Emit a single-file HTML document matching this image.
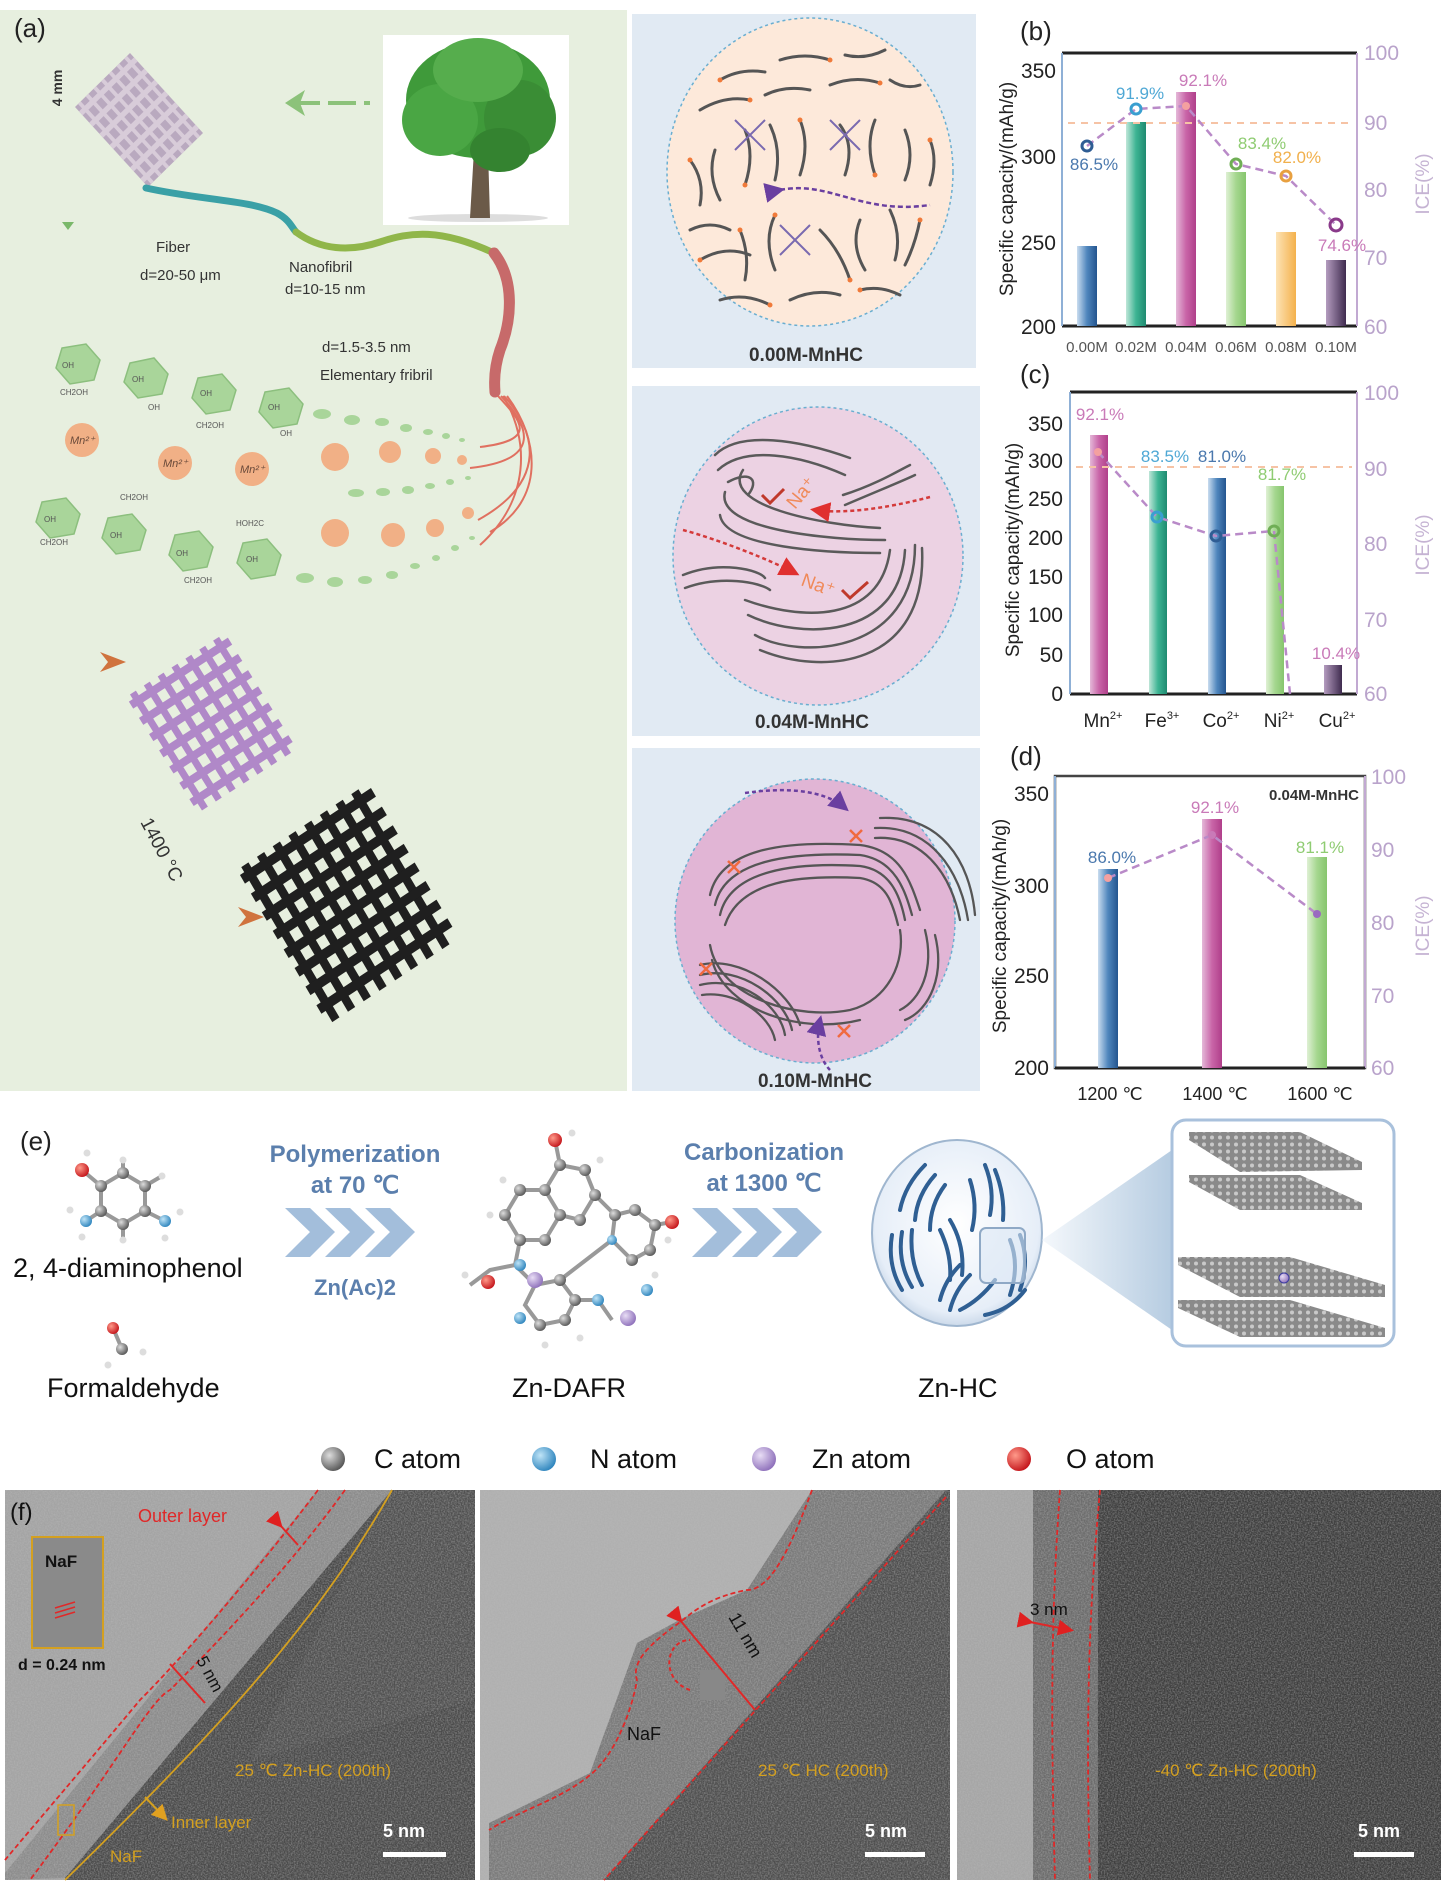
<!DOCTYPE html>
<html><head><meta charset="utf-8"><style>
html,body{margin:0;padding:0;background:#fff;}
svg{display:block;font-family:"Liberation Sans",Arial,sans-serif;}
</style></head><body>
<svg width="1447" height="1887" viewBox="0 0 1447 1887" xmlns="http://www.w3.org/2000/svg">
<defs>
<linearGradient id="gBlue" x1="0" x2="1"><stop offset="0" stop-color="#c9dcef"/><stop offset="0.5" stop-color="#4f86bd"/><stop offset="1" stop-color="#24558f"/></linearGradient>
<linearGradient id="gTeal" x1="0" x2="1"><stop offset="0" stop-color="#bfe6d8"/><stop offset="0.5" stop-color="#3db493"/><stop offset="1" stop-color="#1f8a70"/></linearGradient>
<linearGradient id="gMag" x1="0" x2="1"><stop offset="0" stop-color="#e4b8d8"/><stop offset="0.5" stop-color="#c965a8"/><stop offset="1" stop-color="#b03f8a"/></linearGradient>
<linearGradient id="gGreen" x1="0" x2="1"><stop offset="0" stop-color="#dff0d4"/><stop offset="0.5" stop-color="#a5d78f"/><stop offset="1" stop-color="#86c56d"/></linearGradient>
<linearGradient id="gOr" x1="0" x2="1"><stop offset="0" stop-color="#fde3b5"/><stop offset="1" stop-color="#f4b14c"/></linearGradient>
<linearGradient id="gPur" x1="0" x2="1"><stop offset="0" stop-color="#b49cbf"/><stop offset="1" stop-color="#3f2b4f"/></linearGradient>
<radialGradient id="bC" cx="0.35" cy="0.35" r="0.7"><stop offset="0" stop-color="#ddd"/><stop offset="1" stop-color="#555"/></radialGradient>
<radialGradient id="bN" cx="0.35" cy="0.35" r="0.7"><stop offset="0" stop-color="#bfe4f7"/><stop offset="1" stop-color="#2d84bd"/></radialGradient>
<radialGradient id="bZ" cx="0.35" cy="0.35" r="0.7"><stop offset="0" stop-color="#e8ddf5"/><stop offset="1" stop-color="#8d6fba"/></radialGradient>
<radialGradient id="bO" cx="0.35" cy="0.35" r="0.7"><stop offset="0" stop-color="#ff9a8a"/><stop offset="1" stop-color="#c4141a"/></radialGradient>
<radialGradient id="sph" cx="0.5" cy="0.45" r="0.6"><stop offset="0" stop-color="#ffffff"/><stop offset="0.8" stop-color="#e6eef8"/><stop offset="1" stop-color="#b9cbe0"/></radialGradient>
<linearGradient id="tri" x1="0" x2="1"><stop offset="0" stop-color="#f3f7fb"/><stop offset="1" stop-color="#a9c3dc"/></linearGradient>
<pattern id="gra" width="8" height="7" patternUnits="userSpaceOnUse"><rect width="8" height="7" fill="#8a8a8a"/><circle cx="4" cy="3.5" r="2" fill="#c9c9c9"/></pattern>
<filter id="noise" x="0" y="0" width="100%" height="100%"><feTurbulence type="fractalNoise" baseFrequency="0.7" numOctaves="2" seed="3"/><feColorMatrix type="matrix" values="0 0 0 0 0.5  0 0 0 0 0.5  0 0 0 0 0.5  1.6 0 0 0 -0.55"/></filter>
<marker id="arR" markerWidth="8" markerHeight="8" refX="6" refY="4" orient="auto"><path d="M0,0 L8,4 L0,8 z" fill="#e0302f"/></marker>
<marker id="arP" markerWidth="8" markerHeight="8" refX="6" refY="4" orient="auto"><path d="M0,0 L8,4 L0,8 z" fill="#6a3fa0"/></marker>
<marker id="arRed" markerWidth="8" markerHeight="8" refX="6" refY="4" orient="auto"><path d="M0,0 L8,4 L0,8 z" fill="#e02020"/></marker>
<marker id="arY" markerWidth="8" markerHeight="8" refX="6" refY="4" orient="auto"><path d="M0,0 L8,4 L0,8 z" fill="#e0a020"/></marker>
</defs>

<rect width="1447" height="1887" fill="#fff"/>

<!-- ===== Panel (a) ===== -->
<rect x="0" y="10" width="627" height="1081" fill="#e7efdf"/>
<text x="14" y="37" font-size="26" fill="#222">(a)</text>
<text transform="translate(62,88) rotate(-90)" font-size="14" font-weight="bold" fill="#333" text-anchor="middle">4 mm</text>
<path d="M62,222 l6,8 l6,-8z" fill="#7ab86a"/>
<g transform="matrix(0.55,-0.54,0.73,0.80,75,107)">
<rect x="0" y="0" width="100" height="100" fill="#b9a9bf"/>
<g stroke="#d8ccd9" stroke-width="5">
<line x1="8" y1="0" x2="8" y2="100"/><line x1="22" y1="0" x2="22" y2="100"/><line x1="36" y1="0" x2="36" y2="100"/><line x1="50" y1="0" x2="50" y2="100"/><line x1="64" y1="0" x2="64" y2="100"/><line x1="78" y1="0" x2="78" y2="100"/><line x1="92" y1="0" x2="92" y2="100"/>
<line x1="0" y1="8" x2="100" y2="8"/><line x1="0" y1="22" x2="100" y2="22"/><line x1="0" y1="36" x2="100" y2="36"/><line x1="0" y1="50" x2="100" y2="50"/><line x1="0" y1="64" x2="100" y2="64"/><line x1="0" y1="78" x2="100" y2="78"/><line x1="0" y1="92" x2="100" y2="92"/>
</g>
</g>
<path d="M292,103 L370,103" stroke="#8cc27a" stroke-width="4" stroke-dasharray="28 8"/>
<path d="M285,103 L305,90 L300,103 L305,116 z" fill="#8cc27a"/>
<rect x="383" y="35" width="186" height="190" fill="#fff"/>
<ellipse cx="478" cy="218" rx="70" ry="4" fill="#ddd"/>
<path d="M470,218 L474,150 L462,120 L476,135 L480,110 L486,135 L500,118 L488,150 L490,218 z" fill="#6b5a48"/>
<ellipse cx="478" cy="100" rx="72" ry="58" fill="#3f9a3a"/>
<ellipse cx="440" cy="120" rx="38" ry="36" fill="#4aa644"/>
<ellipse cx="520" cy="118" rx="36" ry="38" fill="#3a8d35"/>
<ellipse cx="478" cy="70" rx="45" ry="32" fill="#56ad4d"/>
<ellipse cx="500" cy="150" rx="30" ry="22" fill="#348330"/>
<path d="M146,188 C200,200 250,200 277,213 C290,220 292,228 296,232" fill="none" stroke="#3aa0a6" stroke-width="7" stroke-linecap="round"/>
<path d="M296,232 C320,250 350,252 380,242 C410,232 440,228 494,253" fill="none" stroke="#90b64a" stroke-width="7" stroke-linecap="round"/>
<path d="M494,253 C515,280 512,320 500,350 C495,365 494,380 495,392" fill="none" stroke="#c76a6a" stroke-width="11" stroke-linecap="round"/>
<g fill="none" stroke="#e07060" stroke-width="2">
<path d="M498,396 C520,420 540,440 480,447"/><path d="M501,396 C528,425 545,460 470,468"/><path d="M504,396 C535,430 550,480 478,520"/><path d="M507,396 C540,440 545,500 490,532"/><path d="M503,396 C530,440 530,500 480,545"/>
</g>
<g font-size="15" fill="#333">
<text x="156" y="252">Fiber</text>
<text x="140" y="280">d=20-50 μm</text>
<text x="289" y="272">Nanofibril</text>
<text x="285" y="294">d=10-15 nm</text>
<text x="322" y="352">d=1.5-3.5 nm</text>
<text x="320" y="380">Elementary fribril</text>
</g>
<g fill="#a9d59a" stroke="#8cbf7e" stroke-width="1.5">
<polygon points="62,348 86,344 100,360 94,380 70,384 56,368"/>
<polygon points="130,363 154,358 168,374 162,394 138,398 124,382"/>
<polygon points="198,378 222,374 236,390 230,410 206,414 192,398"/>
<polygon points="265,392 289,388 303,404 297,424 273,428 259,412"/>
<polygon points="42,502 66,498 80,514 74,534 50,538 36,522"/>
<polygon points="108,518 132,514 146,530 140,550 116,554 102,538"/>
<polygon points="175,535 199,531 213,547 207,567 183,571 169,555"/>
<polygon points="243,543 267,539 281,555 275,575 251,579 237,563"/>
</g>
<g fill="#a9d59a">
<ellipse cx="322" cy="414" rx="9" ry="5"/><ellipse cx="352" cy="420" rx="8" ry="5"/><ellipse cx="382" cy="422" rx="7" ry="4"/><ellipse cx="406" cy="428" rx="6" ry="4"/><ellipse cx="428" cy="432" rx="5" ry="3"/><ellipse cx="446" cy="436" rx="4" ry="3"/><ellipse cx="462" cy="440" rx="3" ry="2"/>
<ellipse cx="356" cy="493" rx="8" ry="4"/><ellipse cx="383" cy="492" rx="7" ry="4"/><ellipse cx="408" cy="490" rx="6" ry="4"/><ellipse cx="430" cy="486" rx="5" ry="3"/><ellipse cx="450" cy="482" rx="4" ry="3"/><ellipse cx="468" cy="478" rx="3" ry="2"/>
<ellipse cx="305" cy="578" rx="9" ry="5"/><ellipse cx="335" cy="582" rx="8" ry="5"/><ellipse cx="365" cy="580" rx="7" ry="4"/><ellipse cx="392" cy="575" rx="6" ry="4"/><ellipse cx="415" cy="566" rx="5" ry="3"/><ellipse cx="436" cy="558" rx="4" ry="3"/><ellipse cx="455" cy="548" rx="4" ry="3"/><ellipse cx="472" cy="538" rx="3" ry="2"/>
</g>
<g font-size="8" fill="#555"><text x="62" y="368">OH</text><text x="132" y="382">OH</text><text x="200" y="396">OH</text><text x="268" y="410">OH</text><text x="60" y="395">CH2OH</text><text x="148" y="410">OH</text><text x="196" y="428">CH2OH</text><text x="280" y="436">OH</text><text x="44" y="522">OH</text><text x="110" y="538">OH</text><text x="176" y="556">OH</text><text x="246" y="562">OH</text><text x="40" y="545">CH2OH</text><text x="120" y="500">CH2OH</text><text x="236" y="526">HOH2C</text><text x="184" y="583">CH2OH</text></g>
<g fill="#f1b086">
<circle cx="82" cy="440" r="17"/><circle cx="175" cy="463" r="17"/><circle cx="252" cy="469" r="17"/>
<circle cx="335" cy="457" r="14"/><circle cx="390" cy="452" r="11"/><circle cx="433" cy="456" r="8"/><circle cx="462" cy="460" r="5"/>
<circle cx="335" cy="533" r="14"/><circle cx="393" cy="535" r="12"/><circle cx="435" cy="528" r="9"/><circle cx="468" cy="513" r="6"/>
</g>
<g font-size="11" fill="#6a4a3a" font-style="italic"><text x="70" y="444">Mn²⁺</text><text x="163" y="467">Mn²⁺</text><text x="240" y="473">Mn²⁺</text></g>
<path d="M100,652 L126,662 L100,672 L108,662 z" fill="#d0733e"/>
<path d="M238,907 L264,917 L238,927 L246,917 z" fill="#d0733e"/>
<g transform="matrix(0.99,-0.64,0.72,1.16,126,697)">
<g stroke="#b088c8" stroke-width="6">
<line x1="7" y1="0" x2="7" y2="100"/><line x1="21" y1="0" x2="21" y2="100"/><line x1="35" y1="0" x2="35" y2="100"/><line x1="49" y1="0" x2="49" y2="100"/><line x1="63" y1="0" x2="63" y2="100"/><line x1="77" y1="0" x2="77" y2="100"/><line x1="91" y1="0" x2="91" y2="100"/>
<line x1="0" y1="7" x2="100" y2="7"/><line x1="0" y1="21" x2="100" y2="21"/><line x1="0" y1="35" x2="100" y2="35"/><line x1="0" y1="49" x2="100" y2="49"/><line x1="0" y1="63" x2="100" y2="63"/><line x1="0" y1="77" x2="100" y2="77"/><line x1="0" y1="91" x2="100" y2="91"/>
</g></g>
<text transform="translate(140,822) rotate(62)" font-size="19" fill="#333">1400 °C</text>
<g transform="matrix(1.31,-0.87,0.91,1.55,237,870)">
<g stroke="#1f1f1f" stroke-width="5.5">
<line x1="6" y1="0" x2="6" y2="100"/><line x1="18" y1="0" x2="18" y2="100"/><line x1="30" y1="0" x2="30" y2="100"/><line x1="42" y1="0" x2="42" y2="100"/><line x1="54" y1="0" x2="54" y2="100"/><line x1="66" y1="0" x2="66" y2="100"/><line x1="78" y1="0" x2="78" y2="100"/><line x1="90" y1="0" x2="90" y2="100"/>
<line x1="0" y1="6" x2="100" y2="6"/><line x1="0" y1="18" x2="100" y2="18"/><line x1="0" y1="30" x2="100" y2="30"/><line x1="0" y1="42" x2="100" y2="42"/><line x1="0" y1="54" x2="100" y2="54"/><line x1="0" y1="66" x2="100" y2="66"/><line x1="0" y1="78" x2="100" y2="78"/><line x1="0" y1="90" x2="100" y2="90"/>
</g></g>

<!-- ===== circle panels ===== -->
<rect x="632" y="14" width="344" height="354" fill="#e1eaf3"/>
<rect x="632" y="386" width="348" height="350" fill="#e1eaf3"/>
<rect x="632" y="748" width="348" height="343" fill="#e1eaf3"/>
<ellipse cx="810" cy="172" rx="143" ry="154" fill="#fde9da" stroke="#6aaed0" stroke-width="1.5" stroke-dasharray="3 3"/>
<ellipse cx="818" cy="556" rx="145" ry="149" fill="#ecd2e3" stroke="#6aaed0" stroke-width="1.5" stroke-dasharray="3 3"/>
<ellipse cx="815" cy="921" rx="140" ry="142" fill="#e1b5d5" stroke="#6aaed0" stroke-width="1.5" stroke-dasharray="3 3"/>
<g fill="none" stroke="#555" stroke-width="3" stroke-linecap="round">
<path d="M720,80 q20,-12 45,-8"/><path d="M780,60 q25,-8 50,0"/><path d="M845,55 q20,5 40,-5"/><path d="M700,110 q25,-15 50,-10"/><path d="M765,95 q20,-10 45,-5"/><path d="M830,85 q25,-10 50,-2"/><path d="M890,80 q15,10 30,5"/>
<path d="M690,160 q15,20 10,45"/><path d="M715,150 q-8,25 5,50"/><path d="M745,130 q10,25 0,55"/><path d="M770,125 q12,25 5,55"/><path d="M800,120 q10,25 0,55"/><path d="M840,125 q15,20 5,50"/><path d="M875,120 q-10,25 0,55"/><path d="M905,130 q10,25 0,50"/><path d="M930,140 q8,20 0,45"/>
<path d="M690,230 q20,-10 40,0"/><path d="M700,260 q25,-15 50,-5"/><path d="M740,230 q10,25 5,50"/><path d="M775,215 q-12,25 0,55"/><path d="M820,230 q20,20 30,50"/><path d="M860,220 q-10,25 5,50"/><path d="M890,210 q12,25 5,50"/><path d="M920,220 q-5,25 -15,45"/>
<path d="M720,300 q25,-8 50,5"/><path d="M790,300 q25,-12 50,-5"/><path d="M860,290 q20,-5 40,5"/>
</g>
<g fill="#f07a3a"><circle cx="720" cy="80" r="2.5"/><circle cx="830" cy="60" r="2.5"/><circle cx="750" cy="100" r="2.5"/><circle cx="880" cy="83" r="2.5"/><circle cx="690" cy="160" r="2.5"/><circle cx="745" cy="185" r="2.5"/><circle cx="800" cy="120" r="2.5"/><circle cx="875" cy="175" r="2.5"/><circle cx="930" cy="140" r="2.5"/><circle cx="700" cy="260" r="2.5"/><circle cx="775" cy="215" r="2.5"/><circle cx="850" cy="280" r="2.5"/><circle cx="920" cy="220" r="2.5"/><circle cx="770" cy="305" r="2.5"/><circle cx="860" cy="290" r="2.5"/><circle cx="740" cy="230" r="2.5"/></g>
<g stroke="#7a6ab0" stroke-width="2"><path d="M735,120 l30,30 M765,120 l-30,30"/><path d="M830,120 l30,30 M860,120 l-30,30"/><path d="M780,225 l30,30 M810,225 l-30,30"/></g>
<path d="M780,190 C830,180 860,215 930,205" fill="none" stroke="#6a3fa0" stroke-width="2.5" stroke-dasharray="5 3" marker-start="url(#arP)"/>
<text x="806" y="361" font-size="19" font-weight="bold" fill="#333" text-anchor="middle">0.00M-MnHC</text>
<g fill="none" stroke="#5a5a5a" stroke-width="2.5" stroke-linecap="round">
<path d="M715,455 C740,430 800,440 850,458"/><path d="M718,470 C745,445 800,455 845,475"/><path d="M728,482 C750,470 760,480 748,495"/>
<path d="M743,470 C720,505 820,525 880,528"/><path d="M725,492 C715,530 830,540 885,540"/><path d="M720,515 C725,548 830,553 880,553"/>
<path d="M845,505 C880,490 905,480 915,475"/><path d="M843,495 C875,485 900,470 910,465"/>
<path d="M683,575 C720,560 760,570 765,578"/><path d="M685,588 C720,575 760,582 770,590"/>
<path d="M745,600 C800,620 880,625 890,550"/><path d="M748,615 C800,640 900,640 905,550"/><path d="M755,635 C800,660 915,655 915,545"/><path d="M760,650 C820,675 928,670 922,548"/>
</g>
<path d="M930,497 C900,505 850,515 815,510" fill="none" stroke="#d43a3a" stroke-width="2.5" stroke-dasharray="4 3" marker-end="url(#arR)"/>
<path d="M683,530 C720,540 770,560 795,573" fill="none" stroke="#d43a3a" stroke-width="2.5" stroke-dasharray="4 3" marker-end="url(#arR)"/>
<text transform="translate(795,510) rotate(-50)" font-size="19" fill="#f08a5a">Na⁺</text>
<text transform="translate(800,585) rotate(20)" font-size="19" fill="#f08a5a">Na⁺</text>
<path d="M762,495 l8,8 l14,-14" fill="none" stroke="#c0392b" stroke-width="3"/>
<path d="M842,590 l8,8 l18,-16" fill="none" stroke="#c0392b" stroke-width="3"/>
<text x="812" y="728" font-size="19" font-weight="bold" fill="#333" text-anchor="middle">0.04M-MnHC</text>
<g fill="none" stroke="#555" stroke-width="2.3" stroke-linecap="round">
<path d="M710,895 C720,850 780,840 860,845 C900,850 910,880 920,910"/><path d="M715,905 C725,860 790,852 860,855 C895,860 905,890 912,915"/><path d="M720,915 C730,870 795,862 860,866 C890,870 900,895 905,920"/><path d="M725,925 C740,880 800,875 860,878 C885,882 892,900 898,925"/>
<path d="M875,838 C920,835 950,870 960,920"/><path d="M875,828 C930,825 960,870 968,920"/><path d="M880,818 C940,815 970,860 975,915"/>
<path d="M710,945 C720,1000 800,1020 850,1010 C890,1000 905,960 900,930"/><path d="M712,960 C725,1010 800,1035 860,1020"/>
<path d="M700,965 C740,955 790,990 800,1025"/><path d="M700,975 C740,965 785,998 792,1030"/><path d="M700,985 C740,975 780,1005 785,1035"/><path d="M702,995 C735,990 770,1015 775,1040"/>
<path d="M925,930 C935,970 920,1000 900,1010"/><path d="M935,935 C945,975 930,1010 905,1020"/>
</g>
<path d="M745,793 C800,785 830,795 845,808" fill="none" stroke="#6a3fa0" stroke-width="2.5" stroke-dasharray="4 3" marker-end="url(#arP)"/>
<path d="M830,1070 C820,1060 815,1040 820,1020" fill="none" stroke="#6a3fa0" stroke-width="2.5" stroke-dasharray="4 3" marker-end="url(#arP)"/>
<g stroke="#f06a40" stroke-width="2.5"><path d="M850,830 l12,12 M862,830 l-12,12"/><path d="M728,861 l12,12 M740,861 l-12,12"/><path d="M700,963 l12,12 M712,963 l-12,12"/><path d="M838,1025 l12,12 M850,1025 l-12,12"/></g>
<text x="815" y="1087" font-size="19" font-weight="bold" fill="#333" text-anchor="middle">0.10M-MnHC</text>

<!-- ===== chart (b) ===== -->
<g font-size="21" fill="#222">
<text x="1020" y="40" font-size="26">(b)</text>
<line x1="1062" y1="53" x2="1357" y2="53" stroke="#222" stroke-width="3"/>
<line x1="1062" y1="326" x2="1357" y2="326" stroke="#222" stroke-width="3"/>
<line x1="1062" y1="53" x2="1062" y2="326" stroke="#8fb0d6" stroke-width="2"/>
<line x1="1357" y1="53" x2="1357" y2="326" stroke="#c2a9d2" stroke-width="2"/>
<rect x="1077" y="246" width="20" height="80" fill="url(#gBlue)"/>
<rect x="1126" y="122" width="20" height="204" fill="url(#gTeal)"/>
<rect x="1176" y="92" width="20" height="234" fill="url(#gMag)"/>
<rect x="1226" y="172" width="20" height="154" fill="url(#gGreen)"/>
<rect x="1276" y="232" width="20" height="94" fill="url(#gOr)"/>
<rect x="1326" y="260" width="20" height="66" fill="url(#gPur)"/>
<line x1="1068" y1="123" x2="1352" y2="123" stroke="#f6c3a5" stroke-width="2" stroke-dasharray="7 6"/>
<polyline points="1087,146 1136,109 1186,106 1236,164 1286,176 1336,225" fill="none" stroke="#b98ac8" stroke-width="2.5" stroke-dasharray="8 5"/>
<circle cx="1087" cy="146" r="5" fill="none" stroke="#2f5d94" stroke-width="3"/><circle cx="1136" cy="109" r="5" fill="none" stroke="#3a9fd0" stroke-width="3"/><circle cx="1186" cy="106" r="4" fill="#f4a0a0"/><circle cx="1236" cy="164" r="5" fill="none" stroke="#6fae55" stroke-width="3"/><circle cx="1286" cy="176" r="5" fill="none" stroke="#e8a040" stroke-width="3"/><circle cx="1336" cy="225" r="6" fill="none" stroke="#8a3a8a" stroke-width="3"/>
<g font-size="17" text-anchor="middle"><text x="1094" y="170" fill="#4a78ad">86.5%</text><text x="1140" y="99" fill="#4fa8d5">91.9%</text><text x="1203" y="86" fill="#c97ab8">92.1%</text><text x="1262" y="149" fill="#8fcc72">83.4%</text><text x="1297" y="163" fill="#f1b04c">82.0%</text><text x="1342" y="251" fill="#c97ab8">74.6%</text></g>
<g text-anchor="end"><text x="1056" y="78">350</text><text x="1056" y="164">300</text><text x="1056" y="250">250</text><text x="1056" y="334">200</text></g>
<g fill="#b9a3cb"><text x="1364" y="60">100</text><text x="1364" y="130">90</text><text x="1364" y="197">80</text><text x="1364" y="265">70</text><text x="1364" y="334">60</text></g>
<g font-size="15" fill="#555" text-anchor="middle"><text x="1087" y="352">0.00M</text><text x="1136" y="352">0.02M</text><text x="1186" y="352">0.04M</text><text x="1236" y="352">0.06M</text><text x="1286" y="352">0.08M</text><text x="1336" y="352">0.10M</text></g>
<text transform="translate(1013,189) rotate(-90)" font-size="19" text-anchor="middle">Specific capacity/(mAh/g)</text>
<text transform="translate(1429,184) rotate(-90)" font-size="19" text-anchor="middle" fill="#c5b3d3">ICE(%)</text>
</g>

<!-- ===== chart (c) ===== -->
<g font-size="21" fill="#222">
<text x="1020" y="383" font-size="26">(c)</text>
<line x1="1070" y1="392" x2="1357" y2="392" stroke="#222" stroke-width="3"/>
<line x1="1070" y1="694" x2="1357" y2="694" stroke="#222" stroke-width="3"/>
<line x1="1070" y1="392" x2="1070" y2="694" stroke="#8fb0d6" stroke-width="2"/>
<line x1="1357" y1="392" x2="1357" y2="694" stroke="#c2a9d2" stroke-width="2"/>
<rect x="1090" y="435" width="18" height="259" fill="url(#gMag)"/>
<rect x="1149" y="471" width="18" height="223" fill="url(#gTeal)"/>
<rect x="1208" y="478" width="18" height="216" fill="url(#gBlue)"/>
<rect x="1266" y="486" width="18" height="208" fill="url(#gGreen)"/>
<rect x="1324" y="665" width="18" height="29" fill="url(#gPur)"/>
<line x1="1076" y1="467" x2="1352" y2="467" stroke="#f6c3a5" stroke-width="2" stroke-dasharray="7 6"/>
<polyline points="1098,452 1157,517 1216,536 1274,531 1290,694" fill="none" stroke="#b98ac8" stroke-width="2.5" stroke-dasharray="8 5"/>
<circle cx="1098" cy="452" r="4" fill="#f4a0a0"/><circle cx="1157" cy="517" r="5" fill="none" stroke="#3a9fd0" stroke-width="3"/><circle cx="1216" cy="536" r="5" fill="none" stroke="#2f5d94" stroke-width="3"/><circle cx="1274" cy="531" r="5" fill="none" stroke="#6fae55" stroke-width="3"/>
<g font-size="17" text-anchor="middle"><text x="1100" y="420" fill="#c97ab8">92.1%</text><text x="1165" y="462" fill="#4fa8d5">83.5%</text><text x="1222" y="462" fill="#4a78ad">81.0%</text><text x="1282" y="480" fill="#8fcc72">81.7%</text><text x="1336" y="659" fill="#c97ab8">10.4%</text></g>
<g text-anchor="end"><text x="1063" y="431">350</text><text x="1063" y="468">300</text><text x="1063" y="506">250</text><text x="1063" y="545">200</text><text x="1063" y="584">150</text><text x="1063" y="622">100</text><text x="1063" y="662">50</text><text x="1063" y="701">0</text></g>
<g fill="#b9a3cb"><text x="1364" y="400">100</text><text x="1364" y="476">90</text><text x="1364" y="551">80</text><text x="1364" y="627">70</text><text x="1364" y="701">60</text></g>
<g font-size="19" text-anchor="middle"><text x="1103" y="727">Mn<tspan font-size="11" dy="-8">2+</tspan></text><text x="1162" y="727">Fe<tspan font-size="11" dy="-8">3+</tspan></text><text x="1221" y="727">Co<tspan font-size="11" dy="-8">2+</tspan></text><text x="1279" y="727">Ni<tspan font-size="11" dy="-8">2+</tspan></text><text x="1337" y="727">Cu<tspan font-size="11" dy="-8">2+</tspan></text></g>
<text transform="translate(1019,550) rotate(-90)" font-size="19" text-anchor="middle">Specific capacity/(mAh/g)</text>
<text transform="translate(1429,545) rotate(-90)" font-size="19" text-anchor="middle" fill="#c5b3d3">ICE(%)</text>
</g>

<!-- ===== chart (d) ===== -->
<g font-size="21" fill="#222">
<text x="1010" y="765" font-size="26">(d)</text>
<rect x="1055" y="776" width="310" height="292" fill="none" stroke="#444" stroke-width="2.5"/>
<line x1="1055" y1="776" x2="1055" y2="1068" stroke="#8fb0d6" stroke-width="2"/>
<line x1="1365" y1="776" x2="1365" y2="1068" stroke="#c2a9d2" stroke-width="2"/>
<line x1="1055" y1="1068" x2="1365" y2="1068" stroke="#222" stroke-width="3"/>
<rect x="1098" y="869" width="20" height="199" fill="url(#gBlue)"/>
<rect x="1202" y="819" width="20" height="249" fill="url(#gMag)"/>
<rect x="1307" y="857" width="20" height="211" fill="url(#gGreen)"/>
<polyline points="1108,878 1212,835 1317,914" fill="none" stroke="#b98ac8" stroke-width="2.5" stroke-dasharray="8 5"/>
<circle cx="1108" cy="878" r="4" fill="#f4a0a0"/><circle cx="1212" cy="835" r="4" fill="#c97ab8"/><circle cx="1317" cy="914" r="4" fill="#9a6ac0"/>
<g font-size="17" text-anchor="middle"><text x="1112" y="863" fill="#4a78ad">86.0%</text><text x="1215" y="813" fill="#c97ab8">92.1%</text><text x="1320" y="853" fill="#8fcc72">81.1%</text></g>
<text x="1359" y="800" font-size="15" font-weight="bold" text-anchor="end" fill="#333">0.04M-MnHC</text>
<g text-anchor="end"><text x="1049" y="801">350</text><text x="1049" y="893">300</text><text x="1049" y="983">250</text><text x="1049" y="1075">200</text></g>
<g fill="#b9a3cb"><text x="1371" y="784">100</text><text x="1371" y="857">90</text><text x="1371" y="930">80</text><text x="1371" y="1003">70</text><text x="1371" y="1075">60</text></g>
<g font-size="18" text-anchor="middle"><text x="1110" y="1100">1200 ℃</text><text x="1215" y="1100">1400 ℃</text><text x="1320" y="1100">1600 ℃</text></g>
<text transform="translate(1006,926) rotate(-90)" font-size="19" text-anchor="middle">Specific capacity/(mAh/g)</text>
<text transform="translate(1429,926) rotate(-90)" font-size="19" text-anchor="middle" fill="#c5b3d3">ICE(%)</text>
</g>

<!-- ===== (e) ===== -->
<text x="20" y="1150" font-size="26" fill="#222">(e)</text>
<g stroke="#999" stroke-width="4">
<polygon points="123,1173 145,1186 145,1211 123,1224 101,1211 101,1186" fill="none"/>
<line x1="101" y1="1186" x2="82" y2="1170"/><line x1="101" y1="1211" x2="86" y2="1221"/><line x1="145" y1="1211" x2="165" y2="1221"/><line x1="123" y1="1173" x2="123" y2="1160"/><line x1="145" y1="1186" x2="162" y2="1176"/><line x1="123" y1="1224" x2="123" y2="1240"/>
</g>
<g><circle cx="123" cy="1173" r="6" fill="url(#bC)"/><circle cx="145" cy="1186" r="6" fill="url(#bC)"/><circle cx="145" cy="1211" r="6" fill="url(#bC)"/><circle cx="123" cy="1224" r="6" fill="url(#bC)"/><circle cx="101" cy="1211" r="6" fill="url(#bC)"/><circle cx="101" cy="1186" r="6" fill="url(#bC)"/>
<circle cx="82" cy="1170" r="7" fill="url(#bO)"/><circle cx="86" cy="1221" r="6" fill="url(#bN)"/><circle cx="165" cy="1221" r="6" fill="url(#bN)"/>
<g fill="#ddd"><circle cx="87" cy="1153" r="3.5"/><circle cx="123" cy="1160" r="3.5"/><circle cx="162" cy="1176" r="3.5"/><circle cx="123" cy="1240" r="3.5"/><circle cx="70" cy="1210" r="3.5"/><circle cx="82" cy="1237" r="3.5"/><circle cx="180" cy="1212" r="3.5"/><circle cx="165" cy="1238" r="3.5"/></g></g>
<text x="13" y="1277" font-size="27" fill="#111">2, 4-diaminophenol</text>
<line x1="113" y1="1328" x2="122" y2="1349" stroke="#999" stroke-width="4"/>
<circle cx="113" cy="1328" r="6" fill="url(#bO)"/><circle cx="122" cy="1349" r="6" fill="url(#bC)"/><circle cx="108" cy="1365" r="3.5" fill="#ddd"/><circle cx="143" cy="1352" r="3.5" fill="#ddd"/>
<text x="47" y="1397" font-size="27" fill="#111">Formaldehyde</text>
<g font-weight="bold" fill="#5b7fad" text-anchor="middle">
<text x="355" y="1162" font-size="24">Polymerization</text><text x="355" y="1193" font-size="24">at 70 ℃</text><text x="355" y="1295" font-size="22">Zn(Ac)2</text>
<text x="764" y="1160" font-size="24">Carbonization</text><text x="764" y="1191" font-size="24">at 1300 ℃</text>
</g>
<g fill="#a3bedb">
<polygon points="285,1208 310,1208 335,1232 310,1257 285,1257 310,1232"/><polygon points="325,1208 350,1208 375,1232 350,1257 325,1257 350,1232"/><polygon points="365,1208 390,1208 415,1232 390,1257 365,1257 390,1232"/>
<polygon points="692,1208 717,1208 742,1232 717,1257 692,1257 717,1232"/><polygon points="732,1208 757,1208 782,1232 757,1257 732,1257 757,1232"/><polygon points="772,1208 797,1208 822,1232 797,1257 772,1257 797,1232"/>
</g>
<g stroke="#999" stroke-width="4" fill="none">
<polyline points="555,1140 560,1165 545,1190 520,1190 505,1215 520,1240 545,1240 560,1215 545,1190"/>
<polyline points="560,1165 585,1170 595,1195 580,1220 560,1215"/>
<polyline points="595,1195 615,1215 612,1240 632,1260 650,1250 655,1225 635,1210 615,1215"/>
<polyline points="520,1240 515,1265 535,1285 525,1305 540,1325 565,1320 575,1300 560,1280 535,1285"/>
<polyline points="575,1300 598,1300 612,1320"/>
<polyline points="470,1285 490,1270 515,1265"/>
<line x1="655" y1="1225" x2="672" y2="1222"/><line x1="560" y1="1280" x2="612" y2="1240"/>
</g>
<g>
<circle cx="555" cy="1140" r="7" fill="url(#bO)"/><circle cx="488" cy="1282" r="7" fill="url(#bO)"/><circle cx="672" cy="1222" r="7" fill="url(#bO)"/>
<circle cx="520" cy="1265" r="6" fill="url(#bN)"/><circle cx="612" cy="1240" r="5" fill="url(#bN)"/><circle cx="598" cy="1300" r="6" fill="url(#bN)"/><circle cx="647" cy="1290" r="6" fill="url(#bN)"/><circle cx="520" cy="1318" r="6" fill="url(#bN)"/>
<circle cx="535" cy="1280" r="8" fill="url(#bZ)"/><circle cx="628" cy="1318" r="8" fill="url(#bZ)"/>
<g fill="url(#bC)"><circle cx="560" cy="1165" r="6"/><circle cx="545" cy="1190" r="6"/><circle cx="520" cy="1190" r="6"/><circle cx="505" cy="1215" r="6"/><circle cx="520" cy="1240" r="6"/><circle cx="545" cy="1240" r="6"/><circle cx="560" cy="1215" r="6"/><circle cx="585" cy="1170" r="6"/><circle cx="595" cy="1195" r="6"/><circle cx="580" cy="1220" r="6"/><circle cx="615" cy="1215" r="6"/><circle cx="632" cy="1260" r="6"/><circle cx="650" cy="1250" r="6"/><circle cx="655" cy="1225" r="6"/><circle cx="635" cy="1210" r="6"/><circle cx="540" cy="1325" r="6"/><circle cx="565" cy="1320" r="6"/><circle cx="575" cy="1300" r="6"/><circle cx="560" cy="1280" r="6"/></g>
<g fill="#ddd"><circle cx="572" cy="1133" r="3.5"/><circle cx="503" cy="1180" r="3.5"/><circle cx="490" cy="1215" r="3.5"/><circle cx="600" cy="1160" r="3.5"/><circle cx="465" cy="1275" r="3.5"/><circle cx="545" cy="1345" r="3.5"/><circle cx="580" cy="1338" r="3.5"/><circle cx="668" cy="1240" r="3.5"/><circle cx="655" cy="1275" r="3.5"/></g>
</g>
<text x="512" y="1397" font-size="27" fill="#111">Zn-DAFR</text>
<ellipse cx="957" cy="1233" rx="85" ry="93" fill="url(#sph)" stroke="#9fb6cf" stroke-width="2"/>
<polygon points="1042,1240 1172,1150 1172,1330" fill="url(#tri)" opacity="0.85"/>
<g fill="none" stroke="#2f5f93" stroke-width="4" stroke-linecap="round">
<path d="M925,1165 q-20,20 -25,45"/><path d="M935,1175 q-18,20 -20,45"/><path d="M945,1185 q-15,20 -15,45"/>
<path d="M985,1165 q10,25 5,50"/><path d="M995,1170 q10,25 8,50"/><path d="M970,1180 q8,25 2,50"/>
<path d="M892,1235 q-5,30 10,55"/><path d="M902,1232 q-5,30 10,55"/><path d="M912,1230 q-3,30 10,55"/>
<path d="M950,1220 q15,25 12,55"/><path d="M940,1230 q12,25 10,50"/>
<path d="M940,1300 q5,-20 20,-35"/><path d="M950,1310 q5,-20 20,-35"/><path d="M960,1310 q20,-10 35,-30"/>
<path d="M1010,1240 q10,25 0,55"/><path d="M1020,1235 q10,25 0,55"/><path d="M985,1315 q25,-5 40,-25"/>
</g>
<rect x="980" y="1228" width="45" height="55" rx="6" fill="rgba(220,232,245,0.6)" stroke="#8fa9c6" stroke-width="2"/>
<text x="918" y="1397" font-size="27" fill="#111">Zn-HC</text>
<rect x="1172" y="1120" width="222" height="226" rx="14" fill="#fff" stroke="#a9c1dc" stroke-width="3"/>
<g fill="url(#gra)">
<polygon points="1189,1132 1300,1132 1362,1162 1362,1170 1240,1172 1189,1140"/>
<polygon points="1189,1175 1300,1175 1362,1203 1362,1210 1240,1210 1189,1182"/>
<polygon points="1178,1257 1290,1257 1385,1285 1385,1297 1240,1297 1178,1265"/>
<polygon points="1178,1300 1290,1300 1385,1328 1385,1337 1240,1337 1178,1308"/>
</g>
<circle cx="1284" cy="1278" r="5" fill="url(#bZ)" stroke="#3a3aa0"/>
<g font-size="27" fill="#111">
<circle cx="333" cy="1459" r="12" fill="url(#bC)"/><text x="374" y="1468">C atom</text>
<circle cx="544" cy="1459" r="12" fill="url(#bN)"/><text x="590" y="1468">N atom</text>
<circle cx="764" cy="1459" r="12" fill="url(#bZ)"/><text x="812" y="1468">Zn atom</text>
<circle cx="1019" cy="1459" r="12" fill="url(#bO)"/><text x="1066" y="1468">O atom</text>
</g>

<!-- ===== (f) TEM ===== -->
<rect x="5" y="1490" width="470" height="390" fill="#a4a4a4"/>
<polygon points="318,1490 475,1490 475,1880 65,1880 65,1878" fill="#4a4a4a"/>
<polygon points="318,1490 392,1490 65,1878 5,1880 5,1873" fill="#8c8c8c"/>
<polygon points="392,1490 475,1490 475,1700 250,1760" fill="#555" opacity="0.6"/>
<rect x="5" y="1490" width="470" height="390" filter="url(#noise)" opacity="0.6"/>
<g fill="none" stroke="#e02828" stroke-width="1.8" stroke-dasharray="5 3">
<path d="M318,1490 C250,1580 180,1660 140,1700 C90,1760 30,1830 5,1860"/>
<path d="M345,1490 C280,1580 200,1660 170,1690 C150,1700 120,1760 30,1880"/>
</g>
<path d="M392,1490 C330,1600 250,1700 65,1880" fill="none" stroke="#d4a020" stroke-width="1.8"/>
<text x="138" y="1522" font-size="18" fill="#e02828">Outer layer</text>
<line x1="280" y1="1525" x2="298" y2="1545" stroke="#e02828" stroke-width="2" marker-start="url(#arRed)"/>
<rect x="32" y="1537" width="71" height="111" fill="#8a8a8a" stroke="#d4a020" stroke-width="2"/>
<text x="45" y="1567" font-size="17" font-weight="bold" fill="#111">NaF</text>
<g stroke="#e02828" stroke-width="1.5"><line x1="55" y1="1608" x2="75" y2="1602"/><line x1="55" y1="1613" x2="75" y2="1607"/><line x1="55" y1="1618" x2="75" y2="1612"/></g>
<text x="18" y="1670" font-size="16" font-weight="bold" fill="#111">d = 0.24 nm</text>
<line x1="170" y1="1664" x2="205" y2="1703" stroke="#e02828" stroke-width="2"/>
<text transform="translate(196,1660) rotate(62)" font-size="17" fill="#111">5 nm</text>
<text x="235" y="1776" font-size="17" fill="#d4a020">25 ℃ Zn-HC (200th)</text>
<line x1="145" y1="1797" x2="165" y2="1818" stroke="#d4a020" stroke-width="2" marker-end="url(#arY)"/>
<text x="171" y="1828" font-size="17" fill="#d4a020">Inner layer</text>
<rect x="58" y="1805" width="16" height="30" fill="none" stroke="#d4a020" stroke-width="1.5"/>
<text x="110" y="1862" font-size="17" fill="#d4a020">NaF</text>
<text x="383" y="1837" font-size="18" font-weight="bold" fill="#fff">5 nm</text>
<rect x="383" y="1852" width="63" height="5" fill="#fff"/>
<rect x="480" y="1490" width="470" height="390" fill="#b0b0b0"/>
<polygon points="812,1490 950,1490 950,1880 489,1880 489,1823 590,1773 637,1643 683,1618 747,1590" fill="#7a7a7a"/>
<polygon points="946,1490 950,1490 950,1880 604,1880" fill="#4e4e4e"/>
<rect x="480" y="1490" width="470" height="390" filter="url(#noise)" opacity="0.6"/>
<path d="M812,1490 C790,1550 770,1590 747,1590 C720,1595 700,1605 683,1620 C655,1640 630,1660 637,1680 C630,1720 610,1760 590,1775 C560,1800 520,1810 489,1830" fill="none" stroke="#e02828" stroke-width="1.8" stroke-dasharray="5 3"/>
<line x1="946" y1="1497" x2="604" y2="1880" stroke="#e02828" stroke-width="1.8" stroke-dasharray="5 3"/>
<path d="M690,1690 C660,1680 665,1640 690,1640" fill="none" stroke="#e02828" stroke-width="2" stroke-dasharray="4 3"/>
<rect x="700" y="1670" width="25" height="30" fill="#888"/>
<line x1="680" y1="1620" x2="755" y2="1710" stroke="#e02828" stroke-width="2" marker-start="url(#arRed)"/>
<text transform="translate(728,1617) rotate(60)" font-size="18" fill="#111">11 nm</text>
<text x="627" y="1740" font-size="18" fill="#111">NaF</text>
<text x="758" y="1776" font-size="17" fill="#d4a020">25 ℃ HC (200th)</text>
<text x="865" y="1837" font-size="18" font-weight="bold" fill="#fff">5 nm</text>
<rect x="865" y="1852" width="60" height="5" fill="#fff"/>
<rect x="957" y="1490" width="484" height="390" fill="#3e3e3e"/>
<rect x="957" y="1490" width="76" height="390" fill="#a6a6a6"/>
<rect x="1033" y="1490" width="65" height="390" fill="#6c6c6c"/>
<rect x="957" y="1490" width="484" height="390" filter="url(#noise)" opacity="0.6"/>
<path d="M1060,1490 C1052,1600 1050,1700 1055,1880" fill="none" stroke="#e02828" stroke-width="1.8" stroke-dasharray="5 3"/>
<path d="M1100,1490 C1090,1600 1085,1700 1090,1880" fill="none" stroke="#e02828" stroke-width="1.8" stroke-dasharray="5 3"/>
<line x1="1030" y1="1622" x2="1070" y2="1630" stroke="#e02828" stroke-width="2" marker-start="url(#arRed)" marker-end="url(#arRed)"/>
<text x="1030" y="1615" font-size="17" fill="#111">3 nm</text>
<text x="1155" y="1776" font-size="17" fill="#d4a020">-40 ℃ Zn-HC (200th)</text>
<text x="1358" y="1837" font-size="18" font-weight="bold" fill="#fff">5 nm</text>
<rect x="1354" y="1852" width="60" height="5" fill="#fff"/>
<text x="10" y="1520" font-size="24" fill="#111">(f)</text>
</svg>
</body></html>
